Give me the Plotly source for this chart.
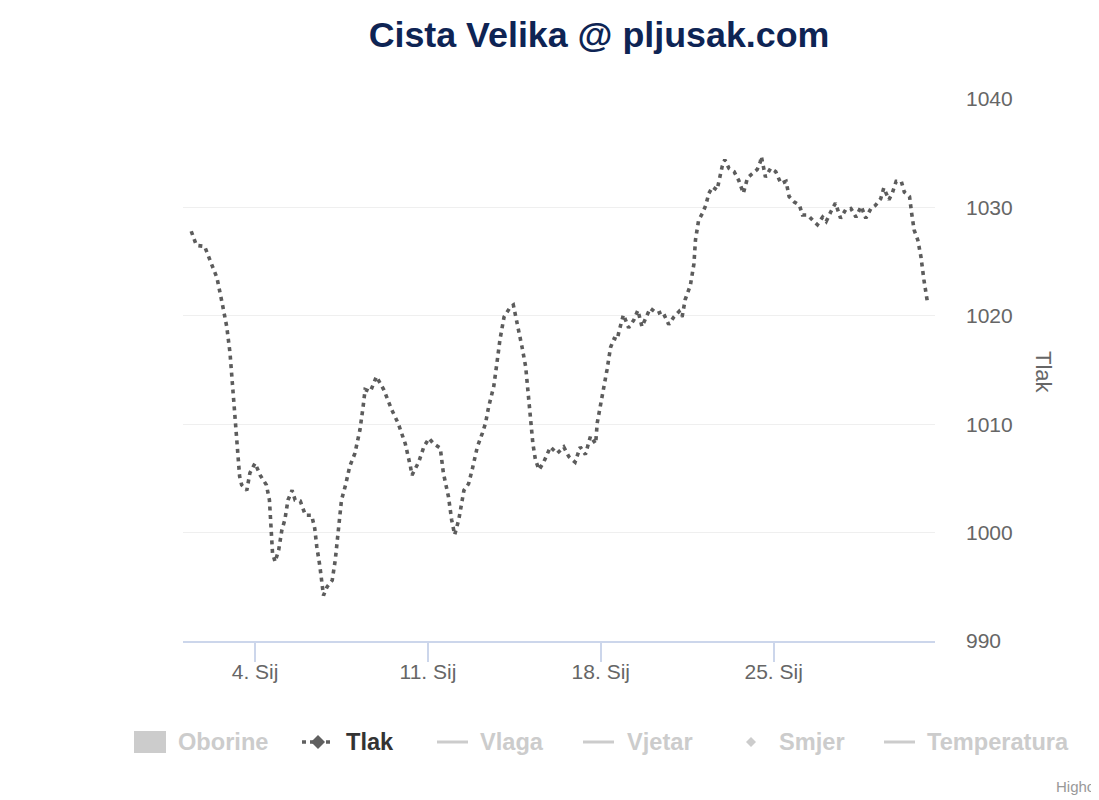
import plotly.graph_objects as go

# ---------------- data ----------------
times = [
    "2020-01-01 10:00", "2020-01-01 15:00", "2020-01-01 23:00", "2020-01-02 11:00",
    "2020-01-02 16:00", "2020-01-02 20:30", "2020-01-02 23:40", "2020-01-03 02:00",
    "2020-01-03 04:30", "2020-01-03 07:00", "2020-01-03 09:00", "2020-01-03 11:00",
    "2020-01-03 16:00", "2020-01-03 19:00", "2020-01-04 00:00", "2020-01-04 05:00",
    "2020-01-04 11:00", "2020-01-04 14:00", "2020-01-04 15:30", "2020-01-04 17:00",
    "2020-01-04 19:30", "2020-01-04 23:00", "2020-01-05 02:00", "2020-01-05 05:00",
    "2020-01-05 08:00", "2020-01-05 12:00", "2020-01-05 15:00", "2020-01-05 20:00",
    "2020-01-06 01:00", "2020-01-06 07:00", "2020-01-06 10:00", "2020-01-06 12:00",
    "2020-01-06 15:00", "2020-01-06 17:00", "2020-01-06 18:30", "2020-01-06 22:00",
    "2020-01-07 03:00", "2020-01-07 06:00", "2020-01-07 09:00", "2020-01-07 12:00",
    "2020-01-07 16:00", "2020-01-07 20:00", "2020-01-08 01:00", "2020-01-08 06:00",
    "2020-01-08 09:00", "2020-01-08 11:00", "2020-01-08 16:00", "2020-01-08 22:00",
    "2020-01-09 05:00", "2020-01-09 13:00", "2020-01-09 19:00", "2020-01-10 02:00",
    "2020-01-10 07:00", "2020-01-10 08:30", "2020-01-10 15:00", "2020-01-10 20:00",
    "2020-01-11 01:00", "2020-01-11 05:30", "2020-01-11 12:00", "2020-01-11 15:00",
    "2020-01-11 20:00", "2020-01-11 23:00", "2020-01-12 02:00", "2020-01-12 06:00",
    "2020-01-12 11:00", "2020-01-12 15:30", "2020-01-12 19:00", "2020-01-13 00:00",
    "2020-01-13 05:00", "2020-01-13 08:00", "2020-01-13 11:00", "2020-01-13 16:00",
    "2020-01-13 19:00", "2020-01-13 22:00", "2020-01-14 02:00", "2020-01-14 08:00",
    "2020-01-14 11:00", "2020-01-14 15:00", "2020-01-14 19:30", "2020-01-14 23:00",
    "2020-01-15 02:00", "2020-01-15 04:00", "2020-01-15 06:00", "2020-01-15 08:30",
    "2020-01-15 12:00", "2020-01-15 16:30", "2020-01-15 23:00", "2020-01-16 05:30",
    "2020-01-16 12:00", "2020-01-16 17:00", "2020-01-16 23:00", "2020-01-17 04:00",
    "2020-01-17 09:00", "2020-01-17 14:00", "2020-01-17 19:00", "2020-01-17 20:30",
    "2020-01-18 00:00", "2020-01-18 03:00", "2020-01-18 06:00", "2020-01-18 09:30",
    "2020-01-18 13:00", "2020-01-18 16:00", "2020-01-18 17:30", "2020-01-18 22:00",
    "2020-01-19 03:00", "2020-01-19 08:00", "2020-01-19 12:00", "2020-01-19 16:00",
    "2020-01-19 21:00", "2020-01-20 00:00", "2020-01-20 07:00", "2020-01-20 12:00",
    "2020-01-20 18:00", "2020-01-20 23:00", "2020-01-21 04:00", "2020-01-21 07:00",
    "2020-01-21 10:00", "2020-01-21 15:00", "2020-01-21 18:30", "2020-01-21 20:00",
    "2020-01-21 23:00", "2020-01-22 03:00", "2020-01-22 06:00", "2020-01-22 09:00",
    "2020-01-22 12:30", "2020-01-22 17:00", "2020-01-22 19:00", "2020-01-22 22:00",
    "2020-01-23 00:30", "2020-01-23 04:30", "2020-01-23 09:30", "2020-01-23 14:00",
    "2020-01-23 18:30", "2020-01-23 22:30", "2020-01-24 03:00", "2020-01-24 08:00",
    "2020-01-24 11:00", "2020-01-24 12:00", "2020-01-24 16:00", "2020-01-24 21:00",
    "2020-01-25 02:00", "2020-01-25 07:00", "2020-01-25 12:00", "2020-01-25 15:00",
    "2020-01-25 20:00", "2020-01-26 01:00", "2020-01-26 04:00", "2020-01-26 09:00",
    "2020-01-26 14:00", "2020-01-26 18:30", "2020-01-26 23:30", "2020-01-27 03:00",
    "2020-01-27 07:30", "2020-01-27 12:00", "2020-01-27 17:00", "2020-01-27 22:00",
    "2020-01-28 03:00", "2020-01-28 08:00", "2020-01-28 13:00", "2020-01-28 17:30",
    "2020-01-28 22:30", "2020-01-29 03:00", "2020-01-29 08:00", "2020-01-29 11:00",
    "2020-01-29 16:00", "2020-01-29 19:30", "2020-01-29 23:00", "2020-01-30 04:00",
    "2020-01-30 07:00", "2020-01-30 12:00", "2020-01-30 14:00", "2020-01-30 16:30",
    "2020-01-30 20:00", "2020-01-30 23:00", "2020-01-31 02:00", "2020-01-31 05:30",
]

tlak = [
    1027.8, 1026.5, 1026.4, 1023.5, 1021.2, 1019.0, 1016.6, 1013.5,
    1010.4, 1007.3, 1005.2, 1004.4, 1003.9, 1005.5, 1006.4, 1005.3,
    1004.4, 1003.0, 1000.0, 998.1, 997.3, 998.4, 1000.2, 1001.2,
    1003.0, 1003.9, 1003.0, 1002.9, 1001.6, 1001.6, 1000.4, 998.7,
    996.9, 995.0, 994.2, 995.0, 995.6, 997.5, 999.9, 1003.0,
    1004.4, 1006.1, 1007.3, 1009.5, 1011.6, 1013.2, 1013.0, 1014.4,
    1013.2, 1011.3, 1010.1, 1008.2, 1006.1, 1005.3, 1006.5, 1007.9,
    1008.7, 1008.2, 1007.8, 1005.5, 1003.3, 1001.2, 999.8, 1001.2,
    1003.9, 1004.5, 1005.8, 1007.9, 1009.2, 1010.1, 1011.6, 1013.5,
    1015.6, 1017.8, 1019.9, 1020.8, 1021.0, 1019.3, 1017.1, 1015.3,
    1012.5, 1010.4, 1008.2, 1006.7, 1005.8, 1006.5, 1007.9, 1007.3,
    1007.9, 1007.0, 1006.5, 1007.9, 1007.2, 1008.9, 1008.2, 1010.1,
    1011.9, 1013.2, 1015.0, 1017.1, 1017.9, 1017.8, 1018.5, 1020.1,
    1018.9, 1019.6, 1020.5, 1019.0, 1020.1, 1020.7, 1020.2, 1020.4,
    1019.2, 1019.9, 1020.4, 1019.9, 1021.5, 1022.8, 1024.8, 1027.0,
    1028.8, 1029.5, 1030.2, 1031.3, 1031.9, 1031.6, 1032.5, 1033.8,
    1034.4, 1033.6, 1033.3, 1032.5, 1031.3, 1032.7, 1033.1, 1033.5,
    1034.2, 1034.7, 1032.8, 1033.6, 1033.3, 1032.2, 1032.4, 1031.0,
    1030.5, 1030.2, 1029.3, 1029.3, 1028.8, 1028.4, 1029.1, 1028.7,
    1029.6, 1030.4, 1029.0, 1029.8, 1029.9, 1029.1, 1030.1, 1029.0,
    1029.9, 1030.2, 1030.8, 1031.8, 1030.7, 1031.4, 1032.4, 1032.4,
    1031.4, 1031.0, 1029.5, 1027.9, 1027.0, 1025.5, 1023.3, 1021.2,
]

x_tick_dates = ["2020-01-04", "2020-01-11", "2020-01-18", "2020-01-25"]
x_tick_labels = ["4. Sij", "11. Sij", "18. Sij", "25. Sij"]
y_ticks = [990, 1000, 1010, 1020, 1030, 1040]

legend_names = ["Oborine", "Tlak", "Vlaga", "Vjetar", "Smjer", "Temperatura"]
legend_visible = [False, True, False, False, False, False]

# ---------------- layout geometry ----------------
# the page body has an 8px margin, so the figure is drawn 8px smaller
OFF = 8
W, H = 1099 - OFF, 800 - OFF
PL, PR, PT, PB = 183, 935, 99, 641  # plot area in page pixels
FONT = "Liberation Sans, Arial, Helvetica, sans-serif"


def px(xp):
    return (xp - PL) / (PR - PL)


def py(yp):
    return (PB - yp) / (PB - PT)


fig = go.Figure()
fig.add_trace(go.Scatter(
    x=times, y=tlak, mode="lines", name="Tlak",
    line=dict(color="#5c5c5c", width=3.6, dash="4px,4.5px"),
    showlegend=False, hoverinfo="x+y",
))

shapes = []
annotations = []

# ---- manual legend (Highcharts style) ----
LEG_Y = 742
sym_kinds = ["rect", "dotline", "line", "line", "diamond", "line"]
sym_x = [134, 302, 437, 583, 736, 884]
text_x = [176, 344, 478, 625, 777, 925]
for name, vis, kind, sx, tx in zip(legend_names, legend_visible, sym_kinds, sym_x, text_x):
    col = "#333333" if vis else "#cccccc"
    scol = "#606060" if vis else "#cccccc"
    if kind == "rect":
        shapes.append(dict(type="rect", xref="paper", yref="paper",
                           x0=px(sx), x1=px(sx + 32), y0=py(LEG_Y + 11), y1=py(LEG_Y - 11),
                           fillcolor=scol, line=dict(width=0)))
    elif kind in ("line", "dotline"):
        shapes.append(dict(type="line", xref="paper", yref="paper",
                           x0=px(sx), x1=px(sx + 31), y0=py(LEG_Y), y1=py(LEG_Y),
                           line=dict(color=scol, width=3.5 if kind == "dotline" else 3,
                                     dash="4px,4px" if kind == "dotline" else "solid")))
    if kind in ("dotline", "diamond"):
        cx = sx + 16 if kind == "dotline" else sx + 15
        r = 7 if kind == "dotline" else 5
        path = "M {} {} L {} {} L {} {} L {} {} Z".format(
            px(cx - r), py(LEG_Y), px(cx), py(LEG_Y - r),
            px(cx + r), py(LEG_Y), px(cx), py(LEG_Y + r))
        shapes.append(dict(type="path", xref="paper", yref="paper", path=path,
                           fillcolor=scol, line=dict(width=0)))
    annotations.append(dict(text=name, xref="paper", yref="paper",
                            x=px(tx), y=py(LEG_Y), xanchor="left", yanchor="middle",
                            showarrow=False,
                            font=dict(family=FONT, size=23.6, color=col, weight="bold")))

# y axis title (rotated, right side)
annotations.append(dict(text="Tlak", xref="paper", yref="paper",
                        x=px(1044), y=py(372), xanchor="center", yanchor="middle",
                        textangle=90, showarrow=False,
                        font=dict(family=FONT, size=22, color="#666666")))

# credits (only the visible part of the cropped credit text)
annotations.append(dict(text="Highc", xref="paper", yref="paper",
                        x=px(1054), y=py(786), xanchor="left", yanchor="middle",
                        showarrow=False,
                        font=dict(family=FONT, size=15, color="#999999")))

fig.update_layout(
    width=W, height=H,
    margin=dict(l=PL - OFF, r=W - (PR - OFF), t=PT - OFF, b=H - (PB - OFF), pad=0),
    paper_bgcolor="white", plot_bgcolor="white",
    title=dict(text="Cista Velika @ pljusak.com", xref="paper", x=px(599),
               xanchor="center", yref="container", y=1 - (34 - OFF) / H, yanchor="middle",
               font=dict(family=FONT, size=35.8, color="#0e2454", weight="bold")),
    xaxis=dict(
        type="date",
        range=["2020-01-01 02:00", "2020-01-31 12:45"],
        tickvals=x_tick_dates, ticktext=x_tick_labels,
        ticks="outside", ticklen=19, tickwidth=1.5, tickcolor="#ccd6eb",
        ticklabelstandoff=-8,
        showline=True, linecolor="#ccd6eb", linewidth=2,
        showgrid=False, zeroline=False,
        tickfont=dict(family=FONT, size=21, color="#666666"),
    ),
    yaxis=dict(
        side="right", range=[990, 1040], tickvals=y_ticks,
        showgrid=True, gridcolor="#efefef", gridwidth=1.2,
        zeroline=False, showline=False, ticks="",
        ticklabelstandoff=30,
        tickfont=dict(family=FONT, size=21, color="#666666"),
    ),
    shapes=shapes,
    annotations=annotations,
    showlegend=False,
    hovermode="closest",
)

fig.write_html("out.html")
